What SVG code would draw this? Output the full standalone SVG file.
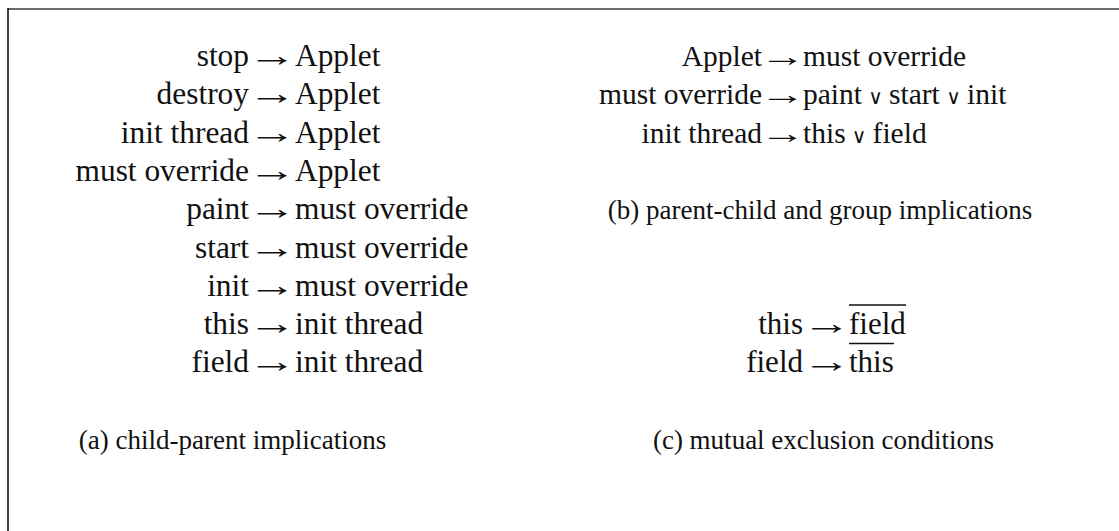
<svg xmlns="http://www.w3.org/2000/svg" width="1119" height="531" viewBox="0 0 1119 531">
<style>
text{font-family:"Liberation Serif","Times New Roman","DejaVu Serif",serif;fill:#111}
.fa{font-size:31.4px}
.fb{font-size:29.5px}
.fc{font-size:31px}
.l{text-anchor:end}
.r{text-anchor:start}
.ar{text-anchor:middle}
.v{font-family:"DejaVu Serif","Liberation Serif",serif;font-size:20px;text-anchor:middle}
.cap{text-anchor:middle;font-size:27px}
.bar{stroke:#111;stroke-width:1.4}
</style>
<defs>
<text id="arrA" class="ar fa" transform="scale(1.55,1)">→</text>
<text id="arrB" class="ar fb" transform="scale(1.55,1)">→</text>
</defs>
<rect width="1119" height="531" fill="#fff"/>
<g id="frame">
<line x1="8" y1="9" x2="1119" y2="9" stroke="#6b6b6b" stroke-width="2"/>
<line x1="8" y1="8" x2="8" y2="531" stroke="#000" stroke-width="1.5"/>
</g>
<g id="connectors">
<use href="#arrA" transform="translate(272,66)"/>
<use href="#arrA" transform="translate(272,104.3)"/>
<use href="#arrA" transform="translate(272,142.6)"/>
<use href="#arrA" transform="translate(272,180.9)"/>
<use href="#arrA" transform="translate(272,219.2)"/>
<use href="#arrA" transform="translate(272,257.5)"/>
<use href="#arrA" transform="translate(272,295.8)"/>
<use href="#arrA" transform="translate(272,334.1)"/>
<use href="#arrA" transform="translate(272,372.4)"/>
<use href="#arrB" transform="translate(782.5,66)"/>
<use href="#arrB" transform="translate(782.5,104.3)"/>
<use href="#arrB" transform="translate(782.5,142.6)"/>
<use href="#arrA" transform="translate(826.5,334.1)"/>
<use href="#arrA" transform="translate(826.5,372.4)"/>
</g>
<g id="panel-a" class="fa">
<g id="a1"><text class="l fa" x="249" y="66">stop</text><text class="r fa" x="295" y="66">Applet</text></g>
<g id="a2"><text class="l fa" x="249" y="104.3">destroy</text><text class="r fa" x="295" y="104.3">Applet</text></g>
<g id="a3"><text class="l fa" x="249" y="142.6">init thread</text><text class="r fa" x="295" y="142.6">Applet</text></g>
<g id="a4"><text class="l fa" x="249" y="180.9">must override</text><text class="r fa" x="295" y="180.9">Applet</text></g>
<g id="a5"><text class="l fa" x="249" y="219.2">paint</text><text class="r fa" x="295" y="219.2">must override</text></g>
<g id="a6"><text class="l fa" x="249" y="257.5">start</text><text class="r fa" x="295" y="257.5">must override</text></g>
<g id="a7"><text class="l fa" x="249" y="295.8">init</text><text class="r fa" x="295" y="295.8">must override</text></g>
<g id="a8"><text class="l fa" x="249" y="334.1">this</text><text class="r fa" x="295" y="334.1">init thread</text></g>
<g id="a9"><text class="l fa" x="249" y="372.4">field</text><text class="r fa" x="295" y="372.4">init thread</text></g>
<text id="cap-a" class="cap" x="232.5" y="449">(a) child-parent implications</text>
</g>
<g id="panel-b">
<g id="b1"><text class="l fb" x="762" y="66">Applet</text><text class="r fb" x="803" y="66">must override</text></g>
<g id="b2"><text class="l fb" x="762" y="104.3">must override</text><text class="r fb" x="803" y="104.3">paint</text><text class="v" x="875.5" y="104.3">∨</text><text class="r fb" x="889" y="104.3">start</text><text class="v" x="953.5" y="104.3">∨</text><text class="r fb" x="967" y="104.3">init</text></g>
<g id="b3"><text class="l fb" x="762" y="142.6">init thread</text><text class="r fb" x="803" y="142.6">this</text><text class="v" x="859" y="142.6">∨</text><text class="r fb" x="872.6" y="142.6">field</text></g>
<text id="cap-b" class="cap" x="820" y="219.2">(b) parent-child and group implications</text>
</g>
<g id="panel-c">
<g id="c1"><text class="l fc" x="803" y="334.1">this</text><text class="r fc" x="849" y="334.1">field</text><line class="bar" x1="849" y1="305" x2="906" y2="305"/></g>
<g id="c2"><text class="l fc" x="803" y="372.4">field</text><text class="r fc" x="849" y="372.4">this</text><line class="bar" x1="849" y1="343.5" x2="894" y2="343.5"/></g>
<text id="cap-c" class="cap" x="823.5" y="449">(c) mutual exclusion conditions</text>
</g>
</svg>
